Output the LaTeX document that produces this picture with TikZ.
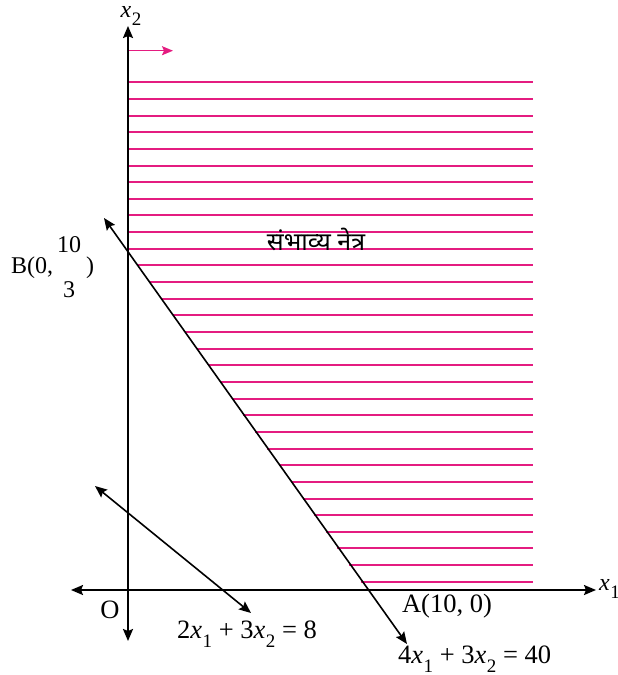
\documentclass[tikz,border=0pt]{standalone}
\usepackage{fontspec}
\setmainfont{Liberation Serif}
\newfontfamily\deva[Script=Devanagari]{Noto Sans}
\usetikzlibrary{arrows.meta}
\definecolor{hatch}{RGB}{228,28,128}
\tikzset{
  axis/.style={line width=2pt,{Stealth[length=12pt,width=10pt,inset=2pt]}-{Stealth[length=12pt,width=10pt,inset=2pt]}},
  cline/.style={line width=1.6pt,{Stealth[length=12pt,width=10pt,inset=2pt]}-{Stealth[length=12pt,width=10pt,inset=2pt]}},
  hline/.style={hatch,line width=1.8pt},
  lbl/.style={inner sep=0pt,font=\fontsize{24}{28}\selectfont},
  big/.style={inner sep=0pt,font=\fontsize{26.5}{30}\selectfont},
}
\newcommand{\vx}[1]{\textit{x}\kern0.5pt\raisebox{-0.32em}{\fontsize{19}{20}\selectfont #1}}
\begin{document}
\begin{tikzpicture}[x=1pt,y=-1pt]
\useasboundingbox (0,0) rectangle (618,675);
% hatch lines
\foreach \i in {0,...,30}{
  \pgfmathsetmacro{\yy}{round(82.3+\i*16.65)}
  \pgfmathsetmacro{\xl}{max(128,128+(\yy-251.7)/1.417)}
  \draw[hline] (\xl,\yy) -- (533,\yy);
}
% pink direction arrow
\coordinate (pa) at (128,50.7);
\coordinate (pb) at (173,50.7);
\draw[hatch,line width=1.5pt,-{Stealth[length=11pt,width=9pt,inset=2pt]}] (pa) -- (pb);
% axes
\coordinate (xl) at (71,590);
\coordinate (xr) at (596,590);
\coordinate (yb) at (128,641);
\coordinate (yt) at (128,26);
\draw[axis] (xl) -- (xr);
\draw[axis] (yb) -- (yt);
% constraint lines
\coordinate (l1a) at (104,218);
\coordinate (l1b) at (407,644);
\draw[cline] (l1a) -- (l1b);
\coordinate (l2a) at (95,486);
\coordinate (l2b) at (251,613);
\draw[cline] (l2a) -- (l2b);
% labels
\node[lbl] (x2) at (131,16) {\vx{2}};
\node[lbl,anchor=west] (x1) at (599,589) {\vx{1}};
\node[big] (O) at (110,610) {O};
\node[big] (A) at (447,606) {A(10, 0)};
\node[big,anchor=west] (eq2) at (177,634) {2\vx{1} + 3\vx{2} = 8};
\node[big,anchor=west] (eq1) at (398,659) {4\vx{1} + 3\vx{2} = 40};
\node[lbl,anchor=west] (B) at (11,268) {B(0,};
\node[lbl] (Bn) at (69,245) {10};
\node[lbl] (Bd) at (69,290) {3};
\node[lbl] (Bc) at (90,268) {)};
\node[inner sep=0pt,font=\deva\fontsize{25}{28}\selectfont] (fr) at (316,239) {संभाव्य नेत्र};
\end{tikzpicture}
\end{document}
